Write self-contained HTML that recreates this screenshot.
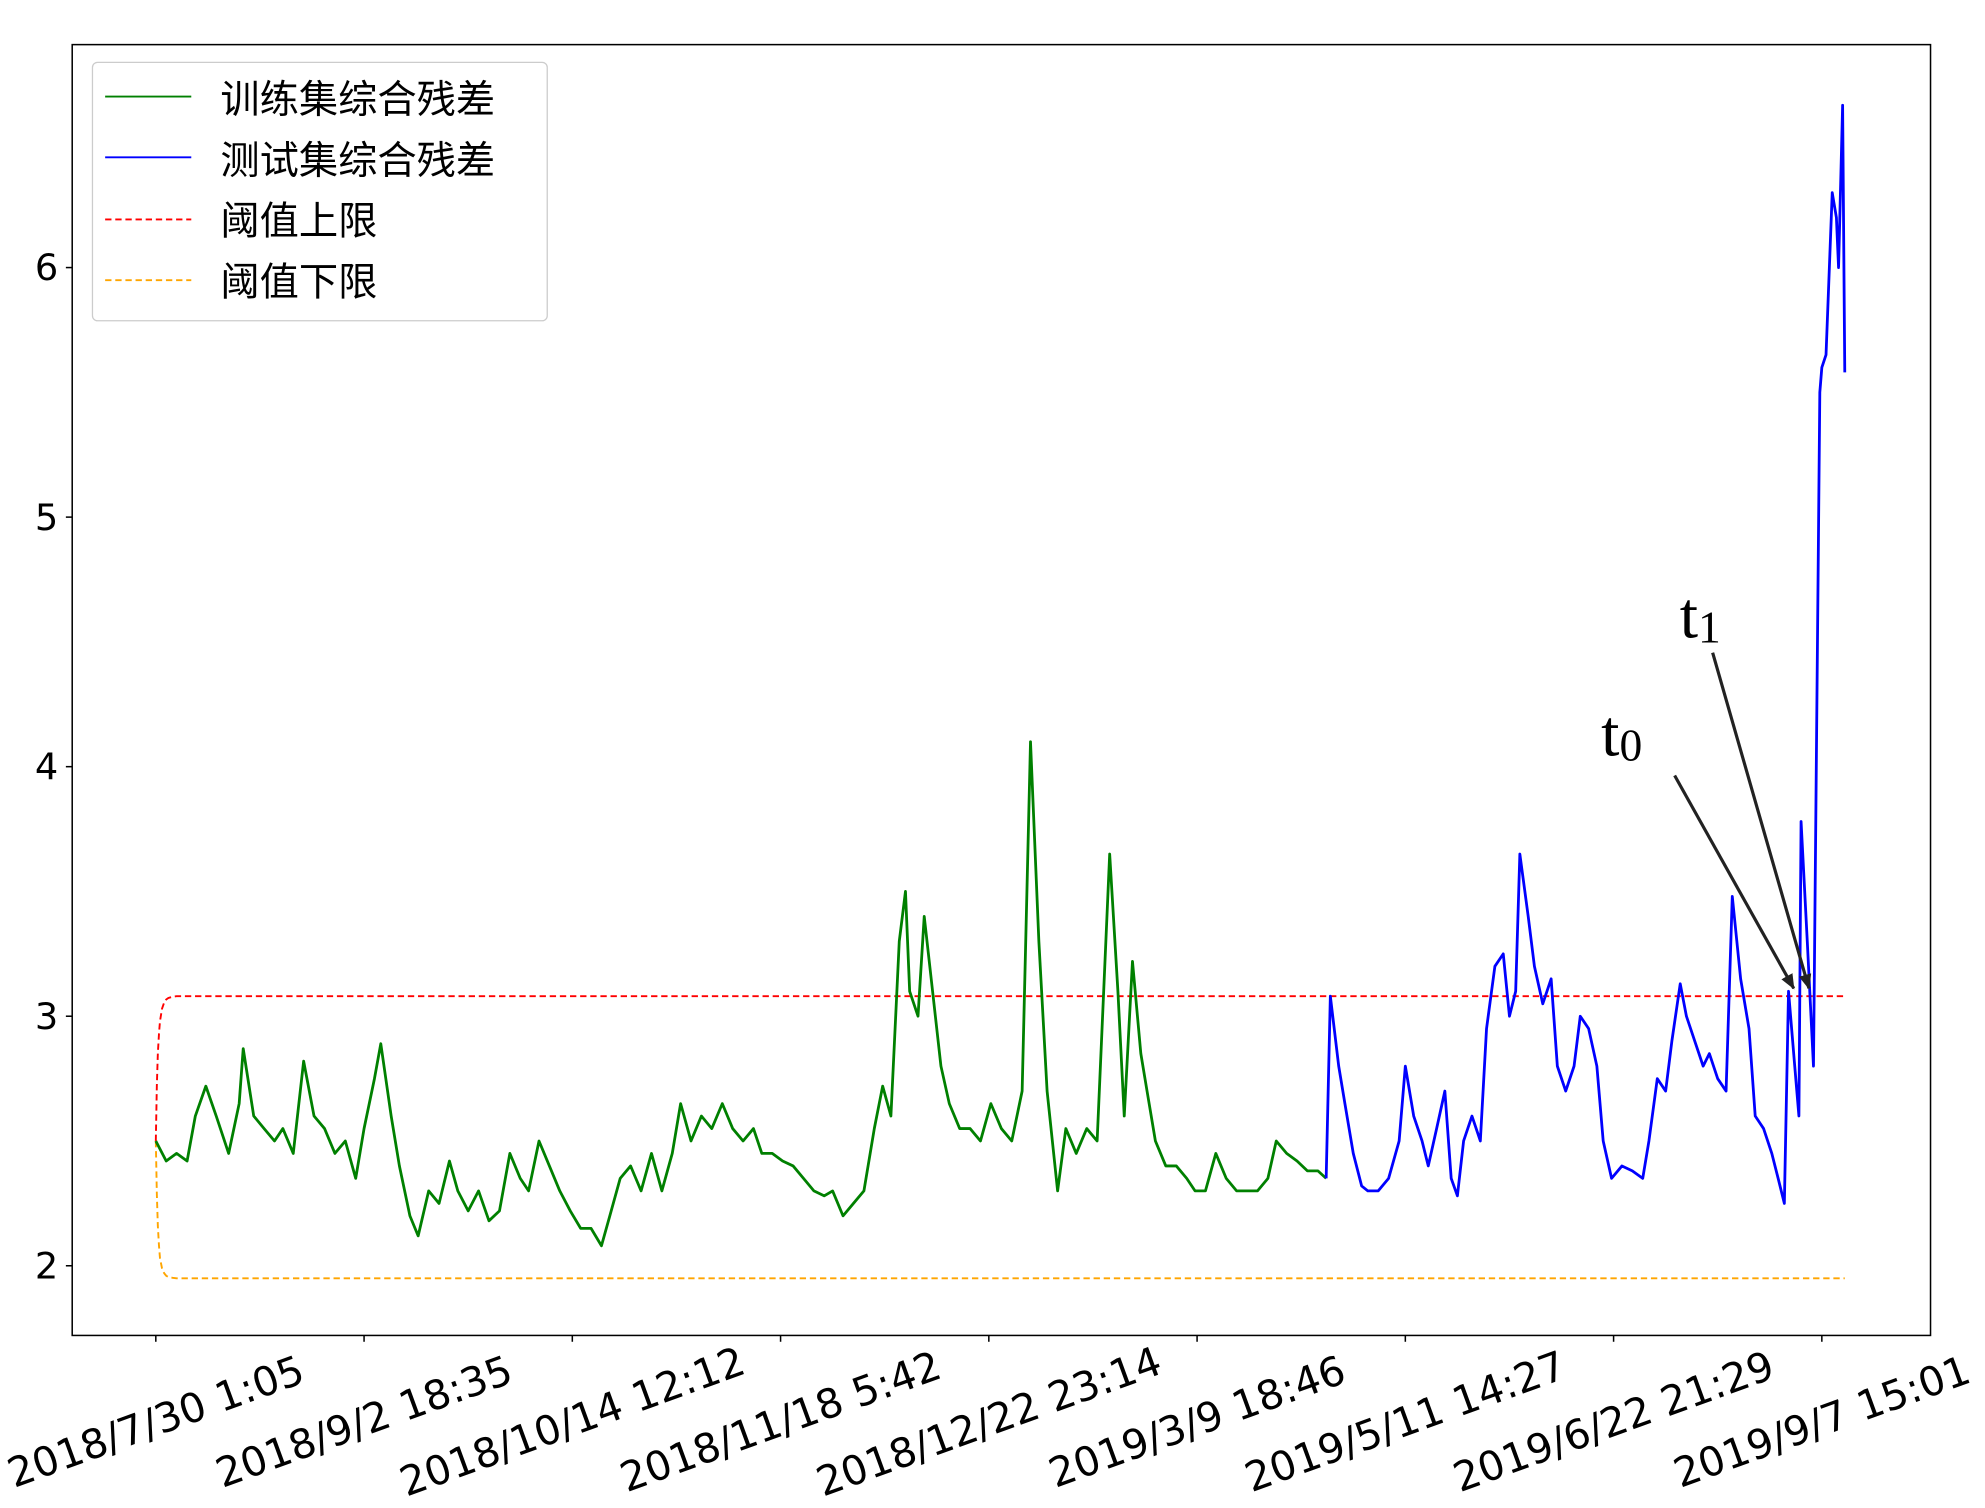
<!DOCTYPE html>
<html><head><meta charset="utf-8">
<style>
html,body{margin:0;padding:0;background:#fff;}
svg{display:block;}
text{font-family:"DejaVu Sans","Liberation Sans","Noto Sans CJK SC",sans-serif;}
</style></head>
<body>
<svg id="chart" width="1985" height="1508" viewBox="0 0 1567 1190" xmlns="http://www.w3.org/2000/svg">
<rect x="0" y="0" width="1567" height="1190" fill="#fff"/>
<g id="marks"></g>
<rect x="57" y="35" width="1467" height="1019" fill="none" stroke="#000" stroke-width="1.2"/>
<g id="axes"></g>
<g>
<rect x="73" y="49" width="359" height="204" rx="4" fill="#fff" fill-opacity="0.8" stroke="#ccc" stroke-width="1"/>
<line x1="83" y1="76" x2="151" y2="76" stroke="green" stroke-width="1.5"/>
<text x="174" y="89" font-size="31" fill="#000">训练集综合残差</text>
<line x1="83" y1="124" x2="151" y2="124" stroke="blue" stroke-width="1.5"/>
<text x="174" y="137" font-size="31" fill="#000">测试集综合残差</text>
<line x1="83" y1="173" x2="151" y2="173" stroke="red" stroke-width="1.5" stroke-dasharray="5,3"/>
<text x="174" y="185" font-size="31" fill="#000">阈值上限</text>
<line x1="83" y1="221" x2="151" y2="221" stroke="orange" stroke-width="1.5" stroke-dasharray="5,3"/>
<text x="174" y="233" font-size="31" fill="#000">阈值下限</text>
</g>
<g>
<defs><marker id="ah" markerWidth="12" markerHeight="10" refX="11" refY="5" orient="auto" markerUnits="userSpaceOnUse"><path d="M0,0 L12,5 L0,10 z" fill="#222"/></marker></defs>
<line x1="1322" y1="612" x2="1416" y2="780" stroke="#222" stroke-width="2.5" marker-end="url(#ah)"/>
<line x1="1352" y1="515" x2="1428" y2="780" stroke="#222" stroke-width="2.5" marker-end="url(#ah)"/>
<text x="1264" y="596" font-size="52" style="font-family:'Liberation Serif',serif">t<tspan font-size="36" dy="4">0</tspan></text>
<text x="1326" y="503" font-size="52" style="font-family:'Liberation Serif',serif">t<tspan font-size="36" dy="4">1</tspan></text>
</g>
</svg>
<script>
const xTickLabels = ["2018/7/30 1:05","2018/9/2 18:35","2018/10/14 12:12","2018/11/18 5:42","2018/12/22 23:14","2019/3/9 18:46","2019/5/11 14:27","2019/6/22 21:29","2019/9/7 15:01"];
const xTickValues = [0,100,200,300,400,500,600,700,800];
const yTickValues = [2,3,4,5,6];
const trainT = [0,5,10,15,19,24,29,35,40,42,47,52,57,61,66,71,76,81,86,91,96,100,105,108,113,117,122,126,131,136,141,145,150,155,160,165,170,175,179,184,189,194,199,204,209,214,218,223,228,233,238,243,248,252,257,262,267,272,277,282,287,291,296,301,306,311,316,321,325,330,335,340,345,349,353,357,360,362,366,369,373,377,381,386,391,396,401,406,411,416,420,424,428,433,437,442,447,452,458,462,465,469,473,476,480,485,490,495,499,504,509,514,519,524,529,534,538,543,548,553,558,562];
const trainV = [2.5,2.42,2.45,2.42,2.6,2.72,2.6,2.45,2.65,2.87,2.6,2.55,2.5,2.55,2.45,2.82,2.6,2.55,2.45,2.5,2.35,2.55,2.75,2.89,2.6,2.4,2.2,2.12,2.3,2.25,2.42,2.3,2.22,2.3,2.18,2.22,2.45,2.35,2.3,2.5,2.4,2.3,2.22,2.15,2.15,2.08,2.2,2.35,2.4,2.3,2.45,2.3,2.45,2.65,2.5,2.6,2.55,2.65,2.55,2.5,2.55,2.45,2.45,2.42,2.4,2.35,2.3,2.28,2.3,2.2,2.25,2.3,2.55,2.72,2.6,3.3,3.5,3.1,3.0,3.4,3.1,2.8,2.65,2.55,2.55,2.5,2.65,2.55,2.5,2.7,4.1,3.3,2.7,2.3,2.55,2.45,2.55,2.5,3.65,3.1,2.6,3.22,2.85,2.7,2.5,2.4,2.4,2.35,2.3,2.3,2.45,2.35,2.3,2.3,2.3,2.35,2.5,2.45,2.42,2.38,2.38,2.35];
const testT = [562,564,568,571,575,579,582,587,592,597,600,604,608,611,615,619,622,625,628,632,636,639,643,647,650,653,655,659,662,666,670,673,677,681,684,688,692,695,699,704,709,714,717,721,725,728,732,735,739,743,746,750,754,757,761,765,768,772,776,779,782,784,787,789,790,793,796,799,800,802,805,807,808,810,811];
const testV = [2.35,3.08,2.8,2.65,2.45,2.32,2.3,2.3,2.35,2.5,2.8,2.6,2.5,2.4,2.55,2.7,2.35,2.28,2.5,2.6,2.5,2.95,3.2,3.25,3.0,3.1,3.65,3.4,3.2,3.05,3.15,2.8,2.7,2.8,3.0,2.95,2.8,2.5,2.35,2.4,2.38,2.35,2.5,2.75,2.7,2.9,3.13,3.0,2.9,2.8,2.85,2.75,2.7,3.48,3.15,2.95,2.6,2.55,2.45,2.35,2.25,3.1,2.8,2.6,3.78,3.3,2.8,5.5,5.6,5.65,6.3,6.2,6.0,6.65,5.58];
const thrT = [0,0.5,1,1.5,2,3,4,5,6,8,10,14,811];
const upperV = [2.5,2.72,2.85,2.93,2.98,3.03,3.055,3.067,3.073,3.078,3.08,3.08,3.08];
const lowerV = [2.5,2.29,2.16,2.08,2.03,1.99,1.97,1.96,1.955,1.952,1.95,1.95,1.95];

const NS = "http://www.w3.org/2000/svg";
function xS(t){ return 123 + t*1.644; }
function yS(v){ return 999 - (v-2)*197; }
const marks = document.getElementById('marks');
const axes = document.getElementById('axes');
function mk(tag, attrs, parent){ const e=document.createElementNS(NS,tag); for(const k in attrs) e.setAttribute(k,attrs[k]); parent.appendChild(e); return e; }
function pts(T,V){ return T.map((t,i)=>xS(t).toFixed(1)+','+yS(V[i]).toFixed(1)).join(' '); }

let up = mk('polyline',{points:pts(thrT,upperV),fill:'none',stroke:'red','stroke-width':1.5,'stroke-dasharray':'5,3'},marks);


let lo = mk('polyline',{points:pts(thrT,lowerV),fill:'none',stroke:'orange','stroke-width':1.5,'stroke-dasharray':'5,3'},marks);


let tr = mk('polyline',{points:pts(trainT,trainV),fill:'none',stroke:'green','stroke-width':2.2,'stroke-linejoin':'round'},marks);


let te = mk('polyline',{points:pts(testT,testV),fill:'none',stroke:'blue','stroke-width':2.2,'stroke-linejoin':'round'},marks);



yTickValues.forEach(v=>{
  const y=yS(v);
  let tk = mk('line',{x1:52,y1:y,x2:57,y2:y,stroke:'#000','stroke-width':1.2},axes);
  
  
  let lb = mk('text',{x:46,y:y+10,'text-anchor':'end','font-size':29,fill:'#000'},axes);
  lb.textContent = String(v);
  
  
});
xTickValues.forEach((t,i)=>{
  const x=xS(t);
  let tk = mk('line',{x1:x,y1:1054,x2:x,y2:1059,stroke:'#000','stroke-width':1.2},axes);
  
  
  let lb = mk('text',{x:x,y:1133,'text-anchor':'middle','font-size':32,fill:'#000',transform:'rotate(-20 '+x+' 1122)'},axes);
  lb.textContent = xTickLabels[i];
  
  
});
</script>
</body></html>
